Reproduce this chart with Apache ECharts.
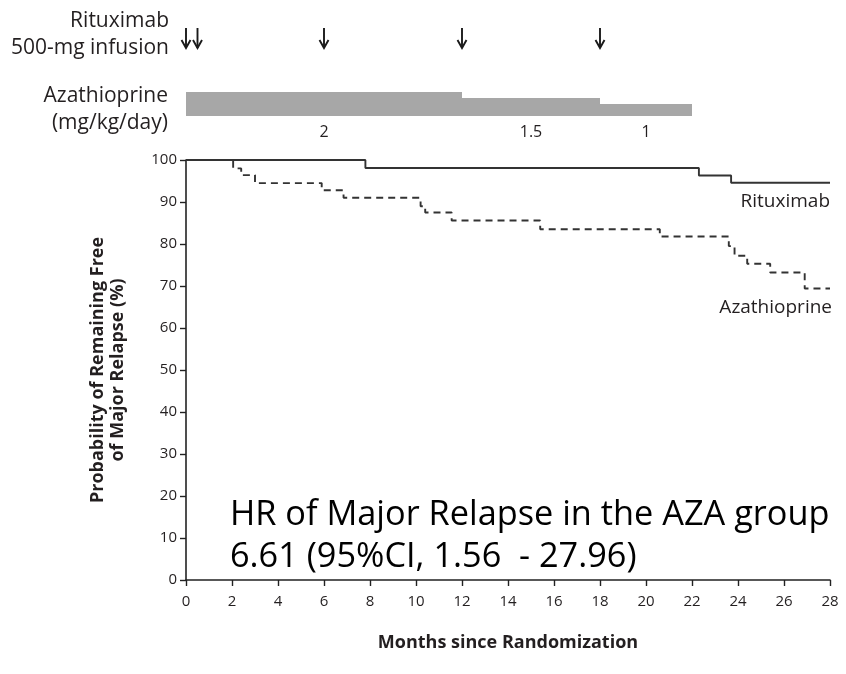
<!DOCTYPE html>
<html>
<head>
<meta charset="utf-8">
<script src="https://cdn.jsdelivr.net/npm/echarts@6/dist/echarts.min.js"></script>
<style>
html,body{margin:0;padding:0;background:#fff;}
#chart{width:846px;height:674px;}
</style>
</head>
<body>
<div id="chart"></div>
<script>
// ---- data ----
const monthTicks = [0, 28, 2];           // min, max, interval of the x axis
const survivalTicks = [0, 100, 10];      // min, max, interval of the y axis

const rituxTimes = [0, 7.8, 22.3, 23.7, 28];
const rituxSurv  = [100, 98.1, 96.3, 94.6, 94.6];

const azaTimes = [0, 2.05, 2.4, 3.0, 5.9, 6.85, 10.2, 10.4, 11.55, 15.4, 20.6, 23.6, 23.85, 24.4, 25.4, 26.9, 28];
const azaSurv  = [100, 98.0, 96.4, 94.5, 92.8, 91.0, 89.0, 87.5, 85.6, 83.5, 81.8, 79.5, 77.2, 75.3, 73.2, 69.4, 69.4];

const infusionMonths = [0, 0.5, 6, 12, 18];

const doseStart = [0, 12, 18];
const doseEnd   = [12, 18, 22];
const doseValue = [2, 1.5, 1];
const doseLabel = ['2', '1.5', '1'];

const seriesNames = ['Rituximab', 'Azathioprine'];
const rituxRowLabel = ['Rituximab', '500-mg infusion'];
const azaRowLabel = ['Azathioprine', '(mg/kg/day)'];
const hrText = ['HR of Major Relapse in the AZA group', '6.61 (95%CI, 1.56  - 27.96)'];

// ---- chart ----
const FONT = "'Open Sans', 'Noto Sans', sans-serif";
const INK = '#231f20';
const LINE = '#333333';

const chart = echarts.init(document.getElementById('chart'), null, {renderer: 'canvas'});

const rituxData = rituxTimes.map((t, i) => [t, rituxSurv[i]]);
const azaData = azaTimes.map((t, i) => [t, azaSurv[i]]);
const doseData = doseStart.map((s, i) => [s, doseEnd[i], doseValue[i]]);
const infusionData = infusionMonths.map(m => [m, 0]);

const hiddenX = (gi) => ({type: 'value', gridIndex: gi, min: monthTicks[0], max: monthTicks[1], show: false});

function label(x, y, text, size, align) {
  return {type: 'text', x: x, y: y, silent: true,
          style: {text: text, font: size + 'px ' + FONT, fill: INK, align: align, verticalAlign: 'middle'}};
}

const option = {
  backgroundColor: '#ffffff',
  animation: false,
  grid: [
    {left: 186, top: 160, width: 644, height: 420, containLabel: false},
    {left: 186, top: 92, width: 644, height: 24},
    {left: 186, top: 28, width: 644, height: 20}
  ],
  xAxis: [
    {
      type: 'value', gridIndex: 0,
      min: monthTicks[0], max: monthTicks[1], interval: monthTicks[2],
      name: 'Months since Randomization',
      nameLocation: 'middle', nameGap: 54,
      nameTextStyle: {fontFamily: FONT, fontSize: 18, fontWeight: 'bold', color: INK},
      axisLine: {show: true, onZero: false, lineStyle: {color: '#222', width: 1.6}},
      axisTick: {show: true, inside: false, length: 6, lineStyle: {color: '#222', width: 1.4}},
      axisLabel: {fontFamily: FONT, fontSize: 15, color: INK, margin: 14},
      splitLine: {show: false}
    },
    hiddenX(1),
    hiddenX(2)
  ],
  yAxis: [
    {
      type: 'value', gridIndex: 0,
      min: survivalTicks[0], max: survivalTicks[1], interval: survivalTicks[2],
      name: 'Probability of Remaining Free\nof Major Relapse (%)',
      nameLocation: 'middle', nameGap: 58, nameRotate: 90,
      nameTextStyle: {fontFamily: FONT, fontSize: 18, fontWeight: 'bold', color: INK, lineHeight: 20},
      axisLine: {show: true, onZero: false, lineStyle: {color: '#222', width: 1.6}},
      axisTick: {show: true, inside: false, length: 6, lineStyle: {color: '#222', width: 1.4}},
      axisLabel: {fontFamily: FONT, fontSize: 15, color: INK, margin: 9},
      splitLine: {show: false}
    },
    {type: 'value', gridIndex: 1, min: 0, max: 2, show: false},
    {type: 'value', gridIndex: 2, min: 0, max: 1, show: false}
  ],
  series: [
    {
      name: seriesNames[0], type: 'line', xAxisIndex: 0, yAxisIndex: 0,
      step: 'end', showSymbol: false, data: rituxData,
      lineStyle: {color: LINE, width: 1.9}
    },
    {
      name: seriesNames[1], type: 'line', xAxisIndex: 0, yAxisIndex: 0,
      step: 'end', showSymbol: false, data: azaData,
      lineStyle: {color: LINE, width: 1.9, type: [7, 5]}
    },
    {
      type: 'custom', xAxisIndex: 1, yAxisIndex: 1, data: doseData,
      encode: {x: [0, 1], y: 2},
      renderItem: function (params, api) {
        const s = api.value(0), e = api.value(1), d = api.value(2);
        const tl = api.coord([s, d]);
        const br = api.coord([e, 0]);
        const mid = api.coord([(s + e) / 2, 0]);
        return {
          type: 'group',
          children: [
            {type: 'rect', shape: {x: tl[0], y: tl[1], width: br[0] - tl[0], height: br[1] - tl[1]},
             style: {fill: '#a7a7a7'}},
            {type: 'text', style: {text: doseLabel[params.dataIndex], x: mid[0], y: mid[1] + 16,
             align: 'center', verticalAlign: 'middle', font: '16px ' + FONT, fill: INK}}
          ]
        };
      }
    },
    {
      type: 'custom', xAxisIndex: 2, yAxisIndex: 2, data: infusionData,
      encode: {x: 0, y: 1},
      renderItem: function (params, api) {
        const m = api.value(0);
        const top = api.coord([m, 1]);
        const bot = api.coord([m, 0]);
        return {
          type: 'group',
          children: [
            {type: 'line', shape: {x1: top[0], y1: top[1], x2: bot[0], y2: bot[1]},
             style: {stroke: '#1a1a1a', lineWidth: 1.9}},
            {type: 'polyline', shape: {points: [[bot[0] - 4.5, bot[1] - 8], [bot[0], bot[1]], [bot[0] + 4.5, bot[1] - 8]]},
             style: {stroke: '#1a1a1a', lineWidth: 1.9, fill: null}}
          ]
        };
      }
    }
  ],
  graphic: [
    label(169, 21, rituxRowLabel[0], 21, 'right'),
    label(169, 48, rituxRowLabel[1], 21, 'right'),
    label(168, 96, azaRowLabel[0], 21, 'right'),
    label(168, 123, azaRowLabel[1], 21, 'right'),
    label(830, 202, seriesNames[0], 19, 'right'),
    label(832, 308, seriesNames[1], 19, 'right'),
    {type: 'text', x: 230, y: 515, silent: true,
     style: {text: hrText[0], font: '34.3px ' + FONT, fill: '#000', align: 'left', verticalAlign: 'middle'}},
    {type: 'text', x: 230, y: 557, silent: true,
     style: {text: hrText[1], font: '34.3px ' + FONT, fill: '#000', align: 'left', verticalAlign: 'middle'}}
  ]
};
chart.setOption(option);
</script>
</body>
</html>
